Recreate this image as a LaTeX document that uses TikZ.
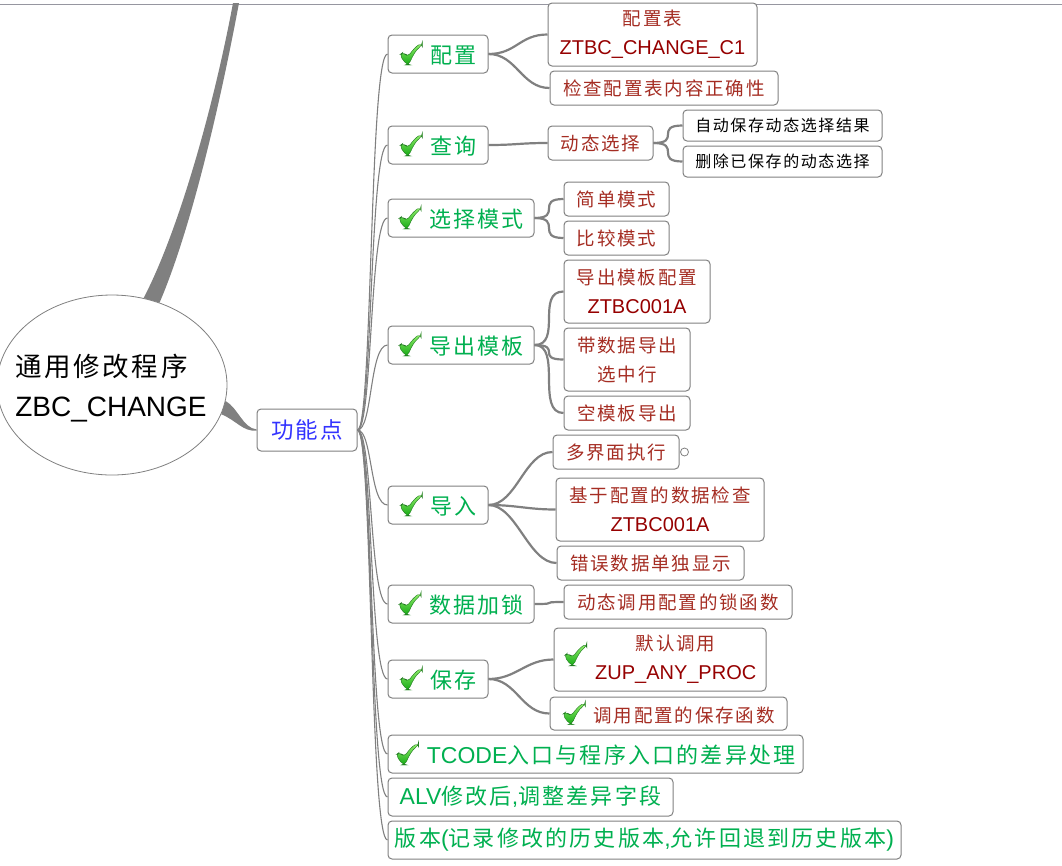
\documentclass[tikz,border=0pt]{standalone}
\usepackage{fontspec}
\setmainfont{Liberation Sans}
\newfontfamily\cjk[LetterSpace=10]{Noto Sans CJK SC}
\usetikzlibrary{shapes.geometric}
\definecolor{boxgray}{RGB}{128,128,128}
\definecolor{linkgray}{RGB}{128,128,128}
\definecolor{topgray}{RGB}{150,150,160}
\definecolor{lvgreen}{RGB}{0,176,80}
\definecolor{lvred}{RGB}{165,45,35}
\definecolor{lvdark}{RGB}{150,0,0}
\definecolor{lvblue}{RGB}{51,51,255}
\definecolor{chklight}{RGB}{150,240,110}
\definecolor{chkdark}{RGB}{20,170,20}
\definecolor{chkedge}{RGB}{30,120,30}
\newcommand\fA{\fontsize{22}{26}\selectfont}
\newcommand\fB{\fontsize{18.5}{29}\selectfont}
\newcommand\fC{\fontsize{16}{19}\selectfont}
\newcommand\zh[1]{{\cjk #1}}
\newcommand\Lone[1]{{\fontsize{23}{26}\selectfont #1}}
\newcommand\Ltwo[1]{{\fontsize{20}{29}\selectfont\color{lvdark}#1}}
\newcommand\chk{\tikz[x=1pt,y=1pt,baseline=2pt]{\shadedraw[top color=chklight,bottom color=chkdark,draw=chkedge,line width=0.4pt] (0,10) -- (4,13) -- (8.5,8) .. controls (12.5,14) and (17,19) .. (23,22) -- (23,19.5) .. controls (17,15.5) and (13,9) .. (9.5,0) -- (7.5,0) -- cycle;}\hspace*{8pt}}
\tikzset{
  box/.style={draw=boxgray, line width=1pt, rounded corners=4pt, fill=white, inner sep=0pt, align=center},
  lone/.style={box, text=lvgreen, minimum height=38pt, font=\fA},
  ltwo/.style={box, text=lvred, minimum height=34pt, font=\fB},
  lthree/.style={box, text=black, minimum height=31pt, font=\fC},
  flink/.style={draw=linkgray, line width=1.1pt},
  blink/.style={draw=linkgray, line width=2.2pt},
}
\begin{document}
\begin{tikzpicture}[x=1pt,y=-1pt]
\useasboundingbox (0,0) rectangle (1062,865);
\draw[topgray, line width=1pt] (0,4) -- (1062,4);
\coordinate (topend) at (236,3);
% root
\node[draw=boxgray, ellipse, line width=0.8pt, fill=white, minimum width=230pt, minimum height=180pt, inner sep=0pt] (root) at (112,385) {};
\node[align=left, inner sep=0pt, font=\fontsize{28}{40}\selectfont] (rootlbl) at (111,388)
  {{\cjk\fontsize{26.5}{40}\selectfont 通用修改程序}\\ZBC\_CHANGE};
\node[box, text=lvblue, minimum width=100pt, minimum height=42pt, font=\fontsize{22.5}{26}\selectfont] (gnd) at (307,430) {\zh{功能点}};
% level 1
\node[lone, minimum width=100pt] (peizhi) at (438,54) {\chk\zh{配置}};
\node[lone, minimum width=100pt] (chaxun) at (438,145) {\chk\zh{查询}};
\node[lone, minimum width=146pt] (xzms) at (461,218) {\chk\zh{选择模式}};
\node[lone, minimum width=146pt] (dcmb) at (461,345) {\chk\zh{导出模板}};
\node[lone, minimum width=100pt] (daoru) at (438,505) {\chk\zh{导入}};
\node[lone, minimum width=146pt] (sjjs) at (461,604) {\chk\zh{数据加锁}};
\node[lone, minimum width=100pt] (baocun) at (438,679) {\chk\zh{保存}};
\node[lone, minimum width=415pt] (tcode) at (595.5,754) {\chk\Lone{TCODE}\zh{入口与程序入口的差异处理}};
\node[lone, minimum width=285pt] (alv) at (530.5,797) {\Lone{ALV}\zh{修改后}\Lone{,}\zh{调整差异字段}};
\node[lone, minimum width=513pt] (banben) at (644.5,840) {\zh{版本}\Lone{(}\zh{记录修改的历史版本}\Lone{,}\zh{允许回退到历史版本}\Lone{)}};
% level 2
\node[ltwo, minimum width=209pt, minimum height=63pt] (pzb) at (652.5,34.5) {\zh{配置表}\\\Ltwo{ZTBC\_CHANGE\_C1}};
\node[ltwo, minimum width=228pt] (jc) at (664,88) {\zh{检查配置表内容正确性}};
\node[ltwo, minimum width=105pt] (dtxz) at (600.5,143) {\zh{动态选择}};
\node[lthree, minimum width=199pt] (zdbc) at (782.5,125.5) {\zh{自动保存动态选择结果}};
\node[lthree, minimum width=199pt] (scbc) at (782.5,161.5) {\zh{删除已保存的动态选择}};
\node[ltwo, minimum width=105pt] (jdms) at (616.5,199) {\zh{简单模式}};
\node[ltwo, minimum width=105pt] (bjms) at (616.5,238) {\zh{比较模式}};
\node[ltwo, minimum width=146pt, minimum height=63pt] (dcpz) at (637,291.5) {\zh{导出模板配置}\\\Ltwo{ZTBC001A}};
\node[ltwo, minimum width=126pt, minimum height=63pt] (dsj) at (627,359.5) {\zh{带数据导出}\\\zh{选中行}};
\node[ltwo, minimum width=126pt] (kmb) at (627,413) {\zh{空模板导出}};
\node[ltwo, minimum width=126pt] (djm) at (616,452) {\zh{多界面执行}};
\node[circle, draw=boxgray, fill=white, line width=0.8pt, minimum size=8pt, inner sep=0pt] (djmc) at ([xshift=5pt]djm.east) {};
\node[ltwo, minimum width=208pt, minimum height=63pt] (jypz) at (660,509.5) {\zh{基于配置的数据检查}\\\Ltwo{ZTBC001A}};
\node[ltwo, minimum width=187pt] (cwsj) at (650.5,563) {\zh{错误数据单独显示}};
\node[ltwo, minimum width=228pt] (dtdy) at (678,602) {\zh{动态调用配置的锁函数}};
\node[ltwo, minimum width=212pt, minimum height=63pt] (mrdy) at (660,659.5) {\chk\begin{tabular}{@{}c@{}}\zh{默认调用}\\\Ltwo{ZUP\_ANY\_PROC}\end{tabular}};
\node[ltwo, minimum width=237pt, minimum height=33pt] (dypz) at (668.5,713.5) {\chk\zh{调用配置的保存函数}};
% root branches
\fill[linkgray] (root.70) .. controls (178,232) and (213,110) .. ([xshift=-3pt]topend) -- ([xshift=3pt]topend) .. controls (219,110) and (190,232) .. (root.60) -- cycle;
\fill[linkgray] (root.-8) .. controls (238,408) and (243,428) .. ([yshift=0.6pt]gnd.west) -- ([yshift=-0.6pt]gnd.west) .. controls (243,432) and (236,420) .. (root.-15) -- cycle;
% gnd -> level 1
\foreach \n in {peizhi,chaxun,xzms,dcmb,daoru,sjjs,baocun,tcode,alv,banben}
  \draw[flink] (gnd.east) .. controls +(15,0) and +(-18,0) .. (\n.west);
% level 1 -> level 2
\foreach \a/\b in {peizhi/pzb,peizhi/jc,chaxun/dtxz,xzms/jdms,xzms/bjms,dcmb/dcpz,dcmb/dsj,dcmb/kmb,daoru/djm,daoru/jypz,daoru/cwsj,sjjs/dtdy,baocun/mrdy,baocun/dypz,dtxz/zdbc,dtxz/scbc}
  \draw[blink] (\a.east) .. controls +(28,0) and +(-28,0) .. (\b.west);
\end{tikzpicture}
\end{document}
